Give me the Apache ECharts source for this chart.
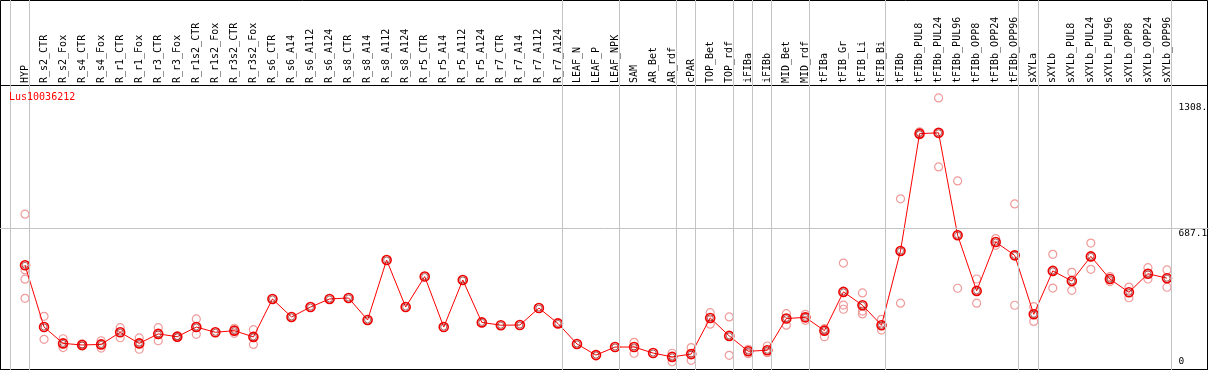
<!DOCTYPE html>
<html>
<head>
<meta charset="utf-8">
<script src="https://cdn.jsdelivr.net/npm/echarts@6/dist/echarts.min.js"></script>
<style>
  html, body { margin: 0; padding: 0; background: #fff; }
  #chart { width: 1209px; height: 370px; }
</style>
</head>
<body>
<div id="chart"></div>
<script>
// ---------- data ----------
const geneName = 'Lus10036212';

const categories = [
  'HYP', 'R_s2_CTR', 'R_s2_Fox', 'R_s4_CTR', 'R_s4_Fox', 'R_r1_CTR', 'R_r1_Fox',
  'R_r3_CTR', 'R_r3_Fox', 'R_r1s2_CTR', 'R_r1s2_Fox', 'R_r3s2_CTR', 'R_r3s2_Fox',
  'R_s6_CTR', 'R_s6_A14', 'R_s6_A112', 'R_s6_A124', 'R_s8_CTR', 'R_s8_A14',
  'R_s8_A112', 'R_s8_A124', 'R_r5_CTR', 'R_r5_A14', 'R_r5_A112', 'R_r5_A124',
  'R_r7_CTR', 'R_r7_A14', 'R_r7_A112', 'R_r7_A124', 'LEAF_N', 'LEAF_P', 'LEAF_NPK',
  'SAM', 'AR_Bet', 'AR_rdf', 'cPAR', 'TOP_Bet', 'TOP_rdf', 'iFIBa', 'iFIBb',
  'MID_Bet', 'MID_rdf', 'tFIBa', 'tFIB_Gr', 'tFIB_Li', 'tFIB_Bi', 'tFIBb',
  'tFIBb_PUL8', 'tFIBb_PUL24', 'tFIBb_PUL96', 'tFIBb_OPP8', 'tFIBb_OPP24', 'tFIBb_OPP96',
  'sXYLa', 'sXYLb', 'sXYLb_PUL8', 'sXYLb_PUL24', 'sXYLb_PUL96', 'sXYLb_OPP8',
  'sXYLb_OPP24', 'sXYLb_OPP96'
];

const means = [
  504, 198, 117, 109, 112, 172, 117, 164, 150, 198, 172, 180, 149,
  337, 248, 297, 337, 342, 233, 530, 297, 448, 198, 431, 221, 207, 208, 292, 216,
  114, 59, 99,
  99, 69, 50, 64, 243, 154, 78, 83, 240, 246,
  180, 372, 306, 207, 575, 1156, 1160, 653, 377, 619, 553,
  261, 476, 426, 548, 436, 370, 462, 440
];

const replicates = [
  [757, 481, 435, 340], [251, 137], [140, 96], [115, 104], [130, 94], [195, 145], [144, 88],
  [195, 130], [155, 146], [238, 162], [], [192, 167], [185, 112],
  [], [], [], [], [], [], [], [], [], [], [], [], [], [], [], [],
  [], [], [],
  [122, 68], [], [68, 26], [96, 33], [269, 212], [248, 58], [88, 66], [104, 71], [264, 207], [261, 231],
  [190, 150], [515, 307, 286], [367, 277, 263], [236, 183], [833, 316], [1165, 1150], [1333, 991],
  [922, 390], [436, 316], [636, 603], [808, 306],
  [299, 226], [558, 391], [469, 380], [614, 484], [448, 423], [396, 343], [492, 436], [481, 395]
];

// group separators, as category boundary indices
const groupBounds = [0, 1, 29, 32, 35, 36, 38, 39, 40, 42, 46, 53, 54, 61];

const yTickValues = [0, 687.1, 1308];
const yTickLabels = ['0', '687.1', '1308.'];
const yMax = 1397;

// ---------- chart ----------
const chart = echarts.init(document.getElementById('chart'), null, { renderer: 'canvas' });

const mono = 'DejaVu Sans Mono';
const repPoints = [];
replicates.forEach((arr, i) => arr.forEach(v => repPoints.push([i, v])));
const tickText = v => {
  const k = yTickValues.indexOf(v);
  return k >= 0 ? yTickLabels[k] : '';
};

const hiddenVal = (gi, extra) => Object.assign({ type: 'value', gridIndex: gi, show: false }, extra || {});

const option = {
  animation: false,
  backgroundColor: '#fff',
  title: {
    text: geneName,
    left: 4, top: 87,
    textStyle: { color: '#ff0000', fontSize: 10, fontWeight: 'normal', fontFamily: mono }
  },
  grid: [
    { left: 0.5, top: 0.5, right: 1.5, bottom: 0.5, show: true, borderColor: '#000', borderWidth: 1, backgroundColor: 'transparent', outerBoundsMode: 'none' },
    { left: 0.5, top: 85.5, right: 1.5, bottom: 0.5, show: true, borderColor: '#000', borderWidth: 1, backgroundColor: 'transparent', outerBoundsMode: 'none' },
    { left: 10, top: 0, right: 38, bottom: 0, outerBoundsMode: 'none' },
    { left: 0, top: 85, right: 0, bottom: 3, outerBoundsMode: 'none' },
    { left: 15.5, top: 85, right: 32.5, bottom: 3, outerBoundsMode: 'none' }
  ],
  xAxis: [
    hiddenVal(0), hiddenVal(1),
    hiddenVal(2, { min: 0, max: categories.length }),
    hiddenVal(3, { min: 0, max: 1 }),
    {
      type: 'category', gridIndex: 4, position: 'top', data: categories, boundaryGap: true,
      axisLine: { show: false }, axisTick: { show: false }, splitLine: { show: false },
      axisLabel: { interval: 0, rotate: 90, margin: 2, fontSize: 10, fontFamily: mono, color: '#000' }
    }
  ],
  yAxis: [
    hiddenVal(0), hiddenVal(1),
    hiddenVal(2, { min: 0, max: 1 }),
    hiddenVal(3, { min: 0, max: yMax }),
    {
      type: 'value', gridIndex: 4, position: 'right', min: 0, max: yMax,
      axisLine: { show: false }, axisTick: { show: false, customValues: yTickValues.slice(1) }, splitLine: { show: false },
      axisLabel: { customValues: yTickValues.slice(1), formatter: tickText, margin: 2, align: 'left', verticalAlign: 'top',
        fontSize: 9.5, fontFamily: mono, color: '#000' }
    },
    {
      type: 'value', gridIndex: 4, position: 'right', min: 0, max: yMax,
      axisLine: { show: false }, axisTick: { show: false, customValues: yTickValues.slice(0, 1) }, splitLine: { show: false },
      axisLabel: { customValues: yTickValues.slice(0, 1), formatter: tickText, margin: 2, align: 'left', verticalAlign: 'bottom',
        fontSize: 9.5, fontFamily: mono, color: '#000' }
    }
  ],
  series: [
    {
      type: 'line', xAxisIndex: 2, yAxisIndex: 2, data: [], silent: true,
      markLine: {
        silent: true, symbol: ['none', 'none'], animation: false,
        label: { show: false },
        lineStyle: { color: '#c4c4c4', width: 1, type: 'solid' },
        data: groupBounds.map(b => ({ xAxis: b }))
      }
    },
    {
      type: 'line', xAxisIndex: 3, yAxisIndex: 3, data: [], silent: true,
      markLine: {
        silent: true, symbol: ['none', 'none'], animation: false,
        label: { show: false },
        lineStyle: { color: '#c4c4c4', width: 1, type: 'solid' },
        data: [{ yAxis: yTickValues[1] }]
      }
    },
    {
      type: 'scatter', xAxisIndex: 4, yAxisIndex: 5, data: repPoints, silent: true,
      symbol: 'circle', symbolSize: 8,
      itemStyle: { color: 'rgba(0,0,0,0)', borderColor: '#f09a9a', borderWidth: 1.2, opacity: 1 },
      z: 2
    },
    {
      type: 'line', xAxisIndex: 4, yAxisIndex: 5, data: means, silent: true,
      symbol: 'circle', symbolSize: 9, showAllSymbol: true,
      lineStyle: { color: '#ff0000', width: 1 },
      itemStyle: { color: 'rgba(0,0,0,0)', borderColor: '#ee0000', borderWidth: 1.6, opacity: 1 },
      z: 3
    },
    {
      type: 'scatter', xAxisIndex: 4, yAxisIndex: 5, data: means, silent: true,
      symbol: 'circle', symbolSize: 6,
      itemStyle: { color: 'rgba(0,0,0,0)', borderColor: '#700000', borderWidth: 0.6, opacity: 1 },
      z: 4
    }
  ]
};

chart.setOption(option);
</script>
</body>
</html>
